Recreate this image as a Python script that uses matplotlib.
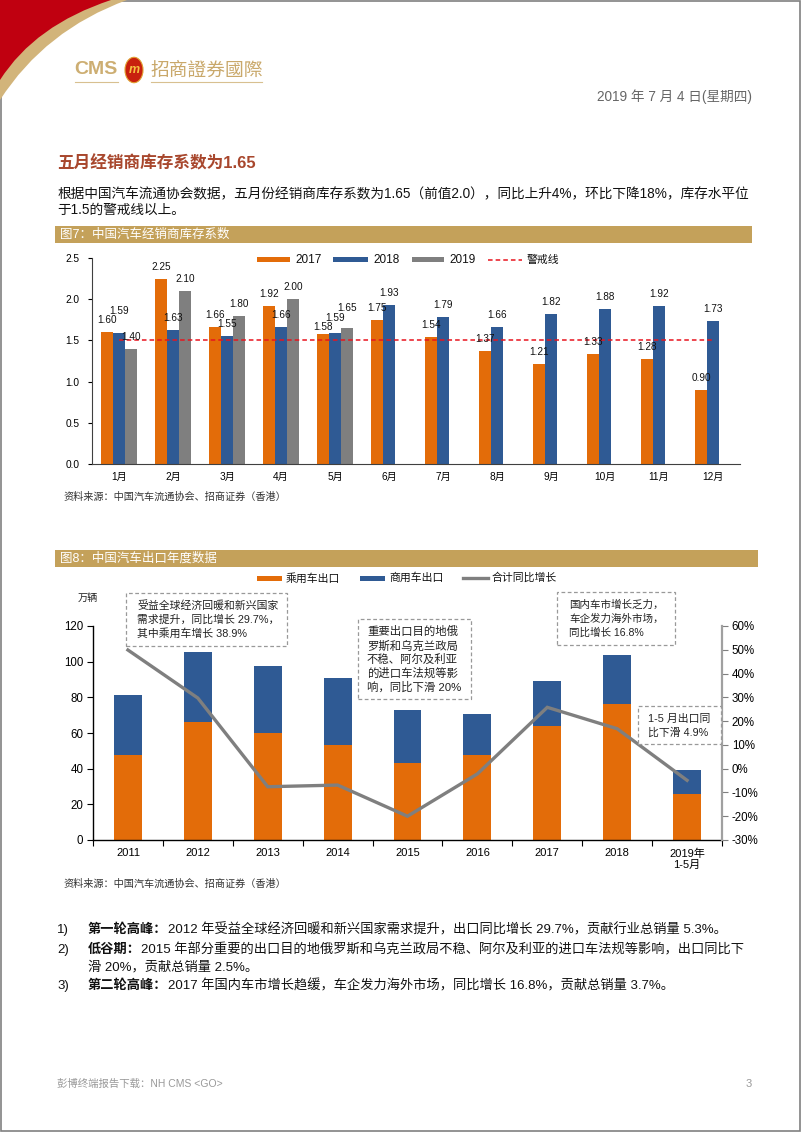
import numpy as np
import matplotlib
matplotlib.use("Agg")
import matplotlib.pyplot as plt
from matplotlib.patches import Rectangle, PathPatch, Circle
from matplotlib.path import Path
from matplotlib.lines import Line2D

plt.rcParams['font.family'] = ['Liberation Sans', 'Noto Sans CJK SC', 'DejaVu Sans']

# -----------------------------------------------------------------------
# data — chart 1: dealer inventory coefficient
# -----------------------------------------------------------------------
months = ["1月", "2月", "3月", "4月", "5月", "6月", "7月", "8月", "9月", "10月", "11月", "12月"]
inv_2017 = [1.60, 2.25, 1.66, 1.92, 1.58, 1.75, 1.54, 1.37, 1.21, 1.33, 1.28, 0.90]
inv_2018 = [1.59, 1.63, 1.55, 1.66, 1.59, 1.93, 1.79, 1.66, 1.82, 1.88, 1.92, 1.73]
inv_2019 = [1.40, 2.10, 1.80, 2.00, 1.65]
warn_level = 1.5

# data — chart 2: annual exports (10k units) and yoy growth
years = ["2011", "2012", "2013", "2014", "2015", "2016", "2017", "2018", "2019年\n1-5月"]
passenger = [47.7, 66.4, 59.8, 53.3, 43.0, 47.7, 63.9, 76.1, 25.8]
commercial = [33.6, 39.2, 38.0, 37.7, 29.7, 23.0, 25.3, 27.9, 13.3]
growth = [49.9, 29.7, -7.6, -6.9, -20.0, -2.2, 25.8, 16.8, -4.9]

ORANGE = "#E36C09"
BLUE = "#2F5A94"
GRAY = "#7F7F7F"
GOLD = "#C4A15A"

W, H = 802, 1133
fig = plt.figure(figsize=(W / 100, H / 100), dpi=100)


def fx(x):
    return x / W


def fy(y):
    return 1 - y / H


def ftext(x, y, s, **kw):
    kw.setdefault("va", "center")
    return fig.text(fx(x), fy(y), s, **kw)


# -----------------------------------------------------------------------
# page furniture
# -----------------------------------------------------------------------
fig.add_artist(Rectangle((fx(1), fy(1131)), fx(799), 1130 / H, transform=fig.transFigure,
                         fill=False, ec="#808080", lw=1.2))

gold_sw = Path([(fx(0), fy(0)), (fx(127), fy(0)), (fx(45), fy(30)), (fx(0), fy(100)), (fx(0), fy(0))],
               [Path.MOVETO, Path.LINETO, Path.CURVE3, Path.CURVE3, Path.CLOSEPOLY])
fig.add_artist(PathPatch(gold_sw, transform=fig.transFigure, fc="#D2B47A", ec="none"))
red_sw = Path([(fx(0), fy(0)), (fx(111), fy(0)), (fx(35), fy(25)), (fx(0), fy(80)), (fx(0), fy(0))],
              [Path.MOVETO, Path.LINETO, Path.CURVE3, Path.CURVE3, Path.CLOSEPOLY])
fig.add_artist(PathPatch(red_sw, transform=fig.transFigure, fc="#C00010", ec="none"))

ftext(74, 70, "CMS", fontsize=14, color="#CDAE72", fontweight="bold")
fig.add_artist(Circle((fx(134), fy(70)), 9 / W, transform=fig.transFigure, fc="#C8200E", ec="#E0A030", lw=0.8))
ftext(134, 70, "m", fontsize=9, color="#F5C040", fontweight="bold", ha="center", style="italic")
ftext(150, 70, "招商證券國際", fontsize=13.5, color="#C9A86A", family=["Noto Sans CJK TC"])
fig.add_artist(Line2D([fx(75), fx(118)], [fy(82), fy(82)], color="#D8C090", lw=0.8))
fig.add_artist(Line2D([fx(151), fx(262)], [fy(82), fy(82)], color="#D8C090", lw=0.8))

ftext(752, 97, "2019 年 7 月 4 日(星期四)", fontsize=9.8, color="#666666", ha="right")

ftext(57, 163, "五月经销商库存系数为1.65", fontsize=12, color="#A8472D", fontweight="bold")
ftext(57, 193, "根据中国汽车流通协会数据，五月份经销商库存系数为1.65（前值2.0），同比上升4%，环比下降18%，库存水平位",
      fontsize=9.85, color="#111111")
ftext(57, 210, "于1.5的警戒线以上。", fontsize=9.85, color="#111111")

# figure header bars
fig.add_artist(Rectangle((fx(55), fy(243)), (752 - 55) / W, 17 / H, transform=fig.transFigure, fc=GOLD, ec="none"))
ftext(60, 234.5, "图7：中国汽车经销商库存系数", fontsize=9, color="white")
fig.add_artist(Rectangle((fx(55), fy(567)), (758 - 55) / W, 17 / H, transform=fig.transFigure, fc=GOLD, ec="none"))
ftext(60, 558.5, "图8：中国汽车出口年度数据", fontsize=9, color="white")

# -----------------------------------------------------------------------
# chart 1
# -----------------------------------------------------------------------
ax1 = fig.add_axes([fx(92), fy(464), (740 - 92) / W, (464 - 258) / H])
x = np.arange(len(months))
bw = 0.22
ax1.bar(x - bw, inv_2017, bw, color=ORANGE, ec="none")
ax1.bar(x, inv_2018, bw, color=BLUE, ec="none")
x19 = np.arange(len(inv_2019))
ax1.bar(x19 + bw, inv_2019, bw, color=GRAY, ec="none")
ax1.plot([0, len(months) - 1], [warn_level, warn_level], color="#E8141E", ls=(0, (3, 2)), lw=1.1)

# label nudges (series, month) -> extra offset, like the hand-moved labels in the source
nudge = {(1, 0): 0.12, (0, 4): -0.06, (1, 4): 0.04, (2, 4): 0.10}
lab_off = 0.145
for si, (xs, vals) in enumerate(((x - bw, inv_2017), (x, inv_2018), (x19 + bw, inv_2019))):
    for mi, (xi, v) in enumerate(zip(xs, vals)):
        dy = lab_off + nudge.get((si, mi), 0)
        ax1.text(xi, v + dy, f"{v:.2f}", ha="center", va="center", fontsize=7.2, color="#111111")

ax1.set_xlim(-0.5, len(months) - 0.5)
ax1.set_ylim(0, 2.5)
ax1.set_yticks(np.arange(0, 2.51, 0.5))
ax1.set_yticklabels([f"{t:.1f}" for t in np.arange(0, 2.51, 0.5)])
ax1.set_xticks(x)
ax1.set_xticklabels(months)
ax1.tick_params(axis="x", length=0, labelsize=7.3, pad=6)
ax1.tick_params(axis="y", length=3, labelsize=7.3, pad=6)
for s in ("top", "right"):
    ax1.spines[s].set_visible(False)
for s in ("left", "bottom"):
    ax1.spines[s].set_color("#404040")
    ax1.spines[s].set_linewidth(0.8)

# chart 1 legend
for x0, x1_, c, lab in ((257, 290, ORANGE, "2017"), (333, 368, BLUE, "2018"), (412, 444, GRAY, "2019")):
    fig.add_artist(Rectangle((fx(x0), fy(262)), (x1_ - x0) / W, 5 / H, transform=fig.transFigure, fc=c, ec="none"))
    ftext(x1_ + 5, 260, lab, fontsize=8.5, color="#111111")
fig.add_artist(Line2D([fx(488), fx(522)], [fy(260), fy(260)], color="#E8141E", ls=(0, (3, 2)), lw=1.1))
ftext(527, 260, "警戒线", fontsize=7.8, color="#111111")

ftext(63, 497, "资料来源：中国汽车流通协会、招商证券（香港）", fontsize=7.3, color="#333333")

# -----------------------------------------------------------------------
# chart 2
# -----------------------------------------------------------------------
ax2 = fig.add_axes([fx(93), fy(840), (722 - 93) / W, (840 - 626) / H])
xx = np.arange(len(years))
ax2.bar(xx, passenger, 0.4, color=ORANGE, ec="none")
ax2.bar(xx, commercial, 0.4, bottom=passenger, color=BLUE, ec="none")
ax2.set_xlim(-0.5, len(years) - 0.5)
ax2.set_ylim(0, 120)
ax2.set_yticks(range(0, 121, 20))
ax2.set_xticks(np.arange(-0.5, len(years), 1.0))
ax2.set_xticklabels([])
ax2.set_xticks(xx, minor=True)
ax2.set_xticklabels(years, minor=True)
ax2.tick_params(axis="x", which="major", length=4, direction="out")
ax2.tick_params(axis="x", which="minor", length=0, labelsize=8, pad=6)
ax2.tick_params(axis="y", length=4, labelsize=8.3, pad=3)
ax2.spines["top"].set_visible(False)
ax2.spines["right"].set_visible(False)
for s in ("left", "bottom"):
    ax2.spines[s].set_linewidth(1.0)

ax3 = ax2.twinx()
ax3.plot(xx, growth, color=GRAY, lw=2.4, solid_joinstyle="miter")
ax3.set_ylim(-30, 60)
ax3.set_yticks(range(-30, 61, 10))
ax3.set_yticklabels([f"{t}%" for t in range(-30, 61, 10)])
ax3.tick_params(axis="y", length=4, labelsize=8.3, pad=3, color=GRAY)
for s in ("top", "left", "bottom"):
    ax3.spines[s].set_visible(False)
ax3.spines["right"].set_color("#A0A0A0")
ax3.spines["right"].set_linewidth(1.6)

# chart 2 legend
for x0, x1_, c, lab in ((257, 282, ORANGE, "乘用车出口"), (360, 385, BLUE, "商用车出口")):
    fig.add_artist(Rectangle((fx(x0), fy(580.5)), (x1_ - x0) / W, 5 / H, transform=fig.transFigure, fc=c, ec="none"))
    ftext(x1_ + 4, 578, lab, fontsize=7.8, color="#111111")
fig.add_artist(Line2D([fx(463), fx(488)], [fy(578), fy(578)], color=GRAY, lw=2.4))
ftext(492, 578, "合计同比增长", fontsize=7.8, color="#111111")

ftext(78, 598, "万辆", fontsize=7.3, color="#222222")

# annotation boxes
notes = [
    ((126, 593, 287, 646), 137, 7.8, [605, 620, 633],
     ["受益全球经济回暖和新兴国家", "需求提升，同比增长 29.7%，", "其中乘用车增长 38.9%"]),
    ((358, 619, 471, 699), 367, 8.2, [631, 646, 659, 673, 687],
     ["重要出口目的地俄", "罗斯和乌克兰政局", "不稳、阿尔及利亚", "的进口车法规等影", "响，同比下滑 20%"]),
    ((557, 592, 675, 645), 569, 7.6, [605, 619, 633],
     ["国内车市增长乏力，", "车企发力海外市场，", "同比增长 16.8%"]),
    ((638, 706, 721, 744), 648, 7.8, [719, 733],
     ["1-5 月出口同", "比下滑 4.9%"]),
]
for (x0, y0, x1_, y1), tx, fs, ys, lines in notes:
    fig.add_artist(Rectangle((fx(x0), fy(y1)), (x1_ - x0) / W, (y1 - y0) / H, transform=fig.transFigure,
                             fc="white", ec="#999999", ls=(0, (3, 2)), lw=0.9, zorder=5))
    for ty, ln in zip(ys, lines):
        t = ftext(tx, ty, ln, fontsize=fs, color="#222222")
        t.set_zorder(6)

ftext(63, 884, "资料来源：中国汽车流通协会、招商证券（香港）", fontsize=7.3, color="#333333")

# -----------------------------------------------------------------------
# bullet text
# -----------------------------------------------------------------------
renderer = fig.canvas.get_renderer()
bullets = [
    (930, "1)", "第一轮高峰：", "2012 年受益全球经济回暖和新兴国家需求提升，出口同比增长 29.7%，贡献行业总销量 5.3%。"),
    (950, "2)", "低谷期：", "2015 年部分重要的出口目的地俄罗斯和乌克兰政局不稳、阿尔及利亚的进口车法规等影响，出口同比下"),
    (986, "3)", "第二轮高峰：", "2017 年国内车市增长趋缓，车企发力海外市场，同比增长 16.8%，贡献总销量 3.7%。"),
]
for y, num, head, body in bullets:
    ftext(57, y, num, fontsize=9.5, color="#111111")
    t = ftext(88, y, head, fontsize=9.5, color="#111111", fontweight="bold")
    bb = t.get_window_extent(renderer)
    ftext(bb.x1, y, body, fontsize=9.5, color="#111111")
ftext(88, 967, "滑 20%，贡献总销量 2.5%。", fontsize=9.5, color="#111111")

# footer
ftext(57, 1084, "彭博终端报告下载：NH CMS <GO>", fontsize=7.5, color="#999999")
ftext(752, 1084, "3", fontsize=8, color="#999999", ha="right")

fig.savefig("out.png", dpi=100)
